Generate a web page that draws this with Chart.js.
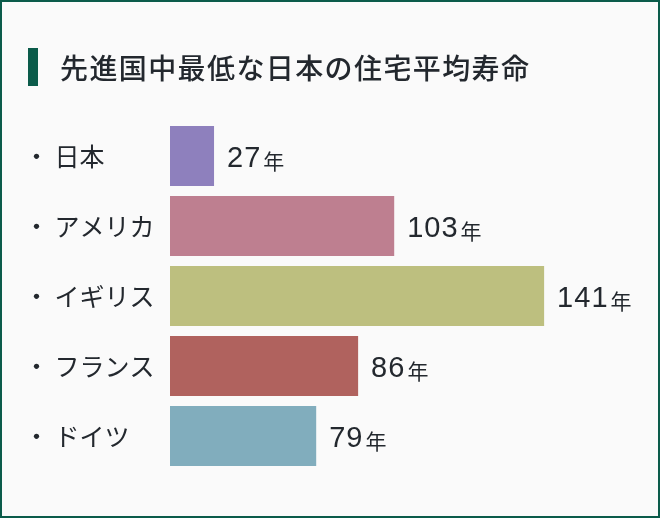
<!DOCTYPE html>
<html>
<head>
<meta charset="utf-8">
<script src="https://cdn.jsdelivr.net/npm/chart.js@4"></script>
<style>
  body { margin: 0; background: #fff; }
  #wrap { position: relative; width: 660px; height: 518px; background: #fafafa; overflow: hidden; }
  #wrap canvas { position: absolute; left: 0; top: 0; }
  #frame { position: absolute; inset: 0; border: 2px solid #0b5b4a; pointer-events: none; }
  #title {
    position: absolute; left: 28px; top: 48px; height: 38px;
    border-left: 10px solid #0b5b4a; padding-left: 22px;
    font: 500 28px "Noto Sans CJK JP", sans-serif; letter-spacing: 1.4px;
    line-height: 38px; color: #23282e; white-space: nowrap;
  }
</style>
</head>
<body>
<div id="wrap">
  <canvas id="grafico" width="660" height="518"></canvas>
  <div id="title">先進国中最低な日本の住宅平均寿命</div>
  <div id="frame"></div>
</div>
<script>
const paises = ['日本', 'アメリカ', 'イギリス', 'フランス', 'ドイツ'];
const anos = [27, 103, 141, 86, 79];
// as barras do original não estão em escala; comprimento
const comprimentos = [16.6, 84.5, 141, 70.9, 55.1];
const cores = ['#8e80bd', '#be7f90', '#bdbf7f', '#b0625e', '#81adbd'];

const corTexto = '#23282e';

// rótulo "27年" no fim de cada barra
const rotulos = {
    id: 'rotulos',
    afterDatasetsDraw(chart) {
        const ctx = chart.ctx;
        const meta = chart.getDatasetMeta(0);
        ctx.save();
        ctx.fillStyle = corTexto;
        ctx.textBaseline = 'alphabetic';
        meta.data.forEach((bar, i) => {
            let x = bar.x + 13;
            const y = bar.y + 11;
            ctx.font = '29px "Liberation Sans", Arial, sans-serif';
            ctx.letterSpacing = '1px';
            const num = String(anos[i]);
            ctx.fillText(num, x, y);
            x += ctx.measureText(num).width + 2;
            ctx.letterSpacing = '0px';
            ctx.font = '21px "Noto Sans CJK JP", sans-serif';
            ctx.fillText('年', x, y + 2);
        });
        ctx.restore();
    }
};

const ctx = document.getElementById('grafico').getContext('2d');
new Chart(ctx, {
    type: 'bar',
    data: {
        labels: paises,
        datasets: [{
            data: comprimentos,
            backgroundColor: cores,
            borderWidth: 0,
            barPercentage: 60 / 70,
            categoryPercentage: 1
        }]
    },
    options: {
        indexAxis: 'y',
        responsive: false,
        animation: false,
        layout: { padding: { left: 24, right: 92, top: 121, bottom: 47 } },
        plugins: {
            legend: { display: false },
            tooltip: { enabled: false }
        },
        scales: {
            x: { display: false, min: 0, max: 150 },
            y: {
                grid: { display: false },
                border: { display: false },
                afterFit(scale) { scale.width = 146; },
                ticks: {
                    crossAlign: 'far',
                    color: corTexto,
                    font: { family: '"Noto Sans CJK JP", sans-serif', size: 25 },
                    callback: (v, i) => '・ ' + paises[i]
                }
            }
        }
    },
    plugins: [rotulos]
});
</script>
</body>
</html>
